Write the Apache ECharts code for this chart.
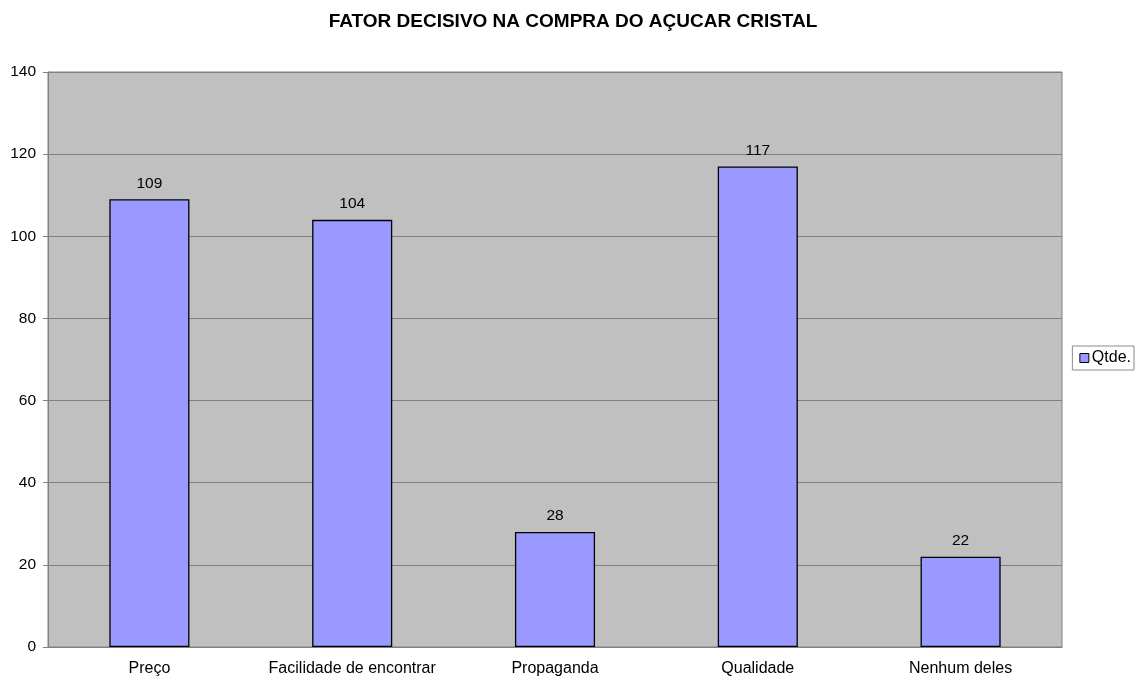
<!DOCTYPE html>
<html><head><meta charset="utf-8">
<script src="https://cdn.jsdelivr.net/npm/echarts@6/dist/echarts.min.js"></script>
<style>html,body{margin:0;padding:0;background:#fff}#c{width:1141px;height:680px}</style>
</head><body><div id="c"></div>
<script>
const title = 'FATOR DECISIVO NA COMPRA DO AÇUCAR CRISTAL';
const categories = ['Preço','Facilidade de encontrar','Propaganda','Qualidade','Nenhum deles'];
const seriesName = 'Qtde.';
const values = [109,104,28,117,22];
const yTicks = {min:0,max:140,interval:20};

const chart = echarts.init(document.getElementById('c'));
chart.setOption({
  animation:false,
  title:{text:title,left:568,top:7,textAlign:'center',textStyle:{fontFamily:'Liberation Sans, Arial',fontSize:19,fontWeight:'bold',color:'#000'}},
  legend:{right:7,top:346,orient:'vertical',itemWidth:9,itemHeight:9,itemGap:4,padding:[4,3,4,7],borderColor:'#8a8a8a',borderWidth:1,
    textStyle:{fontFamily:'Liberation Sans, Arial',fontSize:16,color:'#000',padding:[0,0,0,-2]},
    data:[{name:seriesName,icon:'rect',itemStyle:{borderColor:'#000',borderWidth:1}}]},
  grid:{left:48,right:79,top:72,bottom:33,show:true,backgroundColor:'#c0c0c0',borderColor:'#808080',borderWidth:1,containLabel:false},
  xAxis:{type:'category',data:categories,axisLine:{show:true,lineStyle:{color:'#808080'}},axisTick:{show:false},
    axisLabel:{interval:0,hideOverlap:false,fontFamily:'Liberation Sans, Arial',fontSize:16,color:'#000',margin:14}},
  yAxis:{type:'value',min:yTicks.min,max:yTicks.max,interval:yTicks.interval,
    axisLine:{show:true,lineStyle:{color:'#808080'}},axisTick:{show:true,length:5,lineStyle:{color:'#808080'}},
    splitLine:{lineStyle:{color:'#808080',width:1}},
    axisLabel:{fontFamily:'Liberation Sans, Arial',fontSize:15.5,color:'#000',margin:12}},
  series:[{name:seriesName,type:'bar',data:values,barWidth:'39.5%',
    itemStyle:{color:'#9999ff',borderColor:'#000',borderWidth:1.3},
    label:{show:true,position:'top',distance:8,fontFamily:'Liberation Sans, Arial',fontSize:15.5,color:'#000'}}]
});
</script></body></html>
